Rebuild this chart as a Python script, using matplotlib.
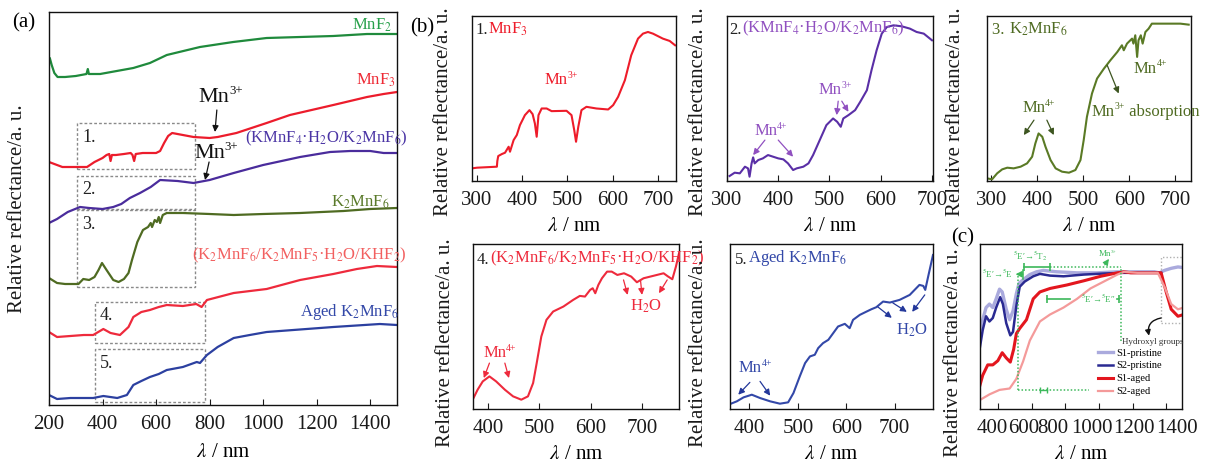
import matplotlib
matplotlib.use("Agg")
import matplotlib.pyplot as plt
from matplotlib.patches import Rectangle
from matplotlib.transforms import ScaledTranslation

plt.rcParams['font.family'] = ['Liberation Serif', 'DejaVu Serif']
plt.rcParams['mathtext.fontset'] = 'stix'

# ---------------- (a) stacked survey spectra, offset a.u. ----------------
a_mnf2_wl = [200, 203, 210, 220, 232, 260, 300, 340, 345, 349, 391, 453, 515, 577, 640,
             702, 764, 888, 1013, 1138, 1262, 1388, 1450, 1500]
a_mnf2_r = [342, 347, 340, 332, 328, 328, 329, 331, 336, 331, 331, 334, 337, 342, 350,
            354, 358, 363, 367, 368, 369, 371, 371, 371]

a_mnf3_wl = [200, 250, 300, 342, 370, 400, 415, 425, 430, 435, 450, 480, 505, 512, 518, 524,
             550, 600, 615, 630, 645, 660, 700, 740, 800, 830, 900, 1013, 1100, 1262, 1388,
             1450, 1500]
a_mnf3_r = [243, 238, 238, 238, 243, 247, 250, 251, 244, 250, 250, 251, 252, 250, 244, 251,
            252, 252, 254, 262, 269, 272, 270, 268, 267, 268, 272, 282, 290, 300, 308,
            311, 313]

a_kmnf4_wl = [200, 230, 270, 316, 350, 400, 440, 470, 502, 540, 580, 615, 680, 740, 800,
              890, 1000, 1138, 1250, 1325, 1400, 1450, 1500]
a_kmnf4_r = [182, 186, 193, 198, 197, 196, 198, 201, 207, 212, 218, 225, 224, 222, 225,
             232, 240, 248, 253, 254, 254, 252, 252]

a_k2mnf6_wl = [200, 230, 260, 310, 328, 350, 370, 385, 398, 415, 440, 460, 480, 497, 510,
               530, 551, 570, 580, 585, 595, 603, 610, 615, 625, 640, 700, 800, 890, 1000,
               1138, 1300, 1400, 1500]
a_k2mnf6_r = [127, 122, 121, 121, 126, 125, 128, 135, 142, 135, 125, 123, 126, 132, 145,
              163, 175, 178, 182, 178, 185, 183, 188, 182, 190, 192, 192, 191, 190, 191,
              192, 194, 196, 197]

a_khf2_wl = [200, 230, 280, 330, 365, 403, 430, 465, 497, 515, 545, 577, 610, 640, 700, 750,
             770, 790, 890, 1013, 1138, 1262, 1350, 1425, 1500]
a_khf2_r = [73, 68, 69, 70, 70, 76, 72, 70, 78, 88, 93, 95, 98, 100, 99, 101,
            98, 105, 112, 116, 125, 131, 136, 139, 138]

a_aged_wl = [200, 230, 280, 365, 403, 455, 491, 515, 545, 577, 610, 640, 700, 752, 764, 790,
             830, 890, 950, 1013, 1262, 1436, 1500]
a_aged_r = [10, 6, 7, 7, 9, 7, 10, 20, 24, 28, 31, 35, 38, 43, 42, 50,
            58, 67, 70, 73, 78, 81, 80]

# zoomed windows marked in (a): (wl_min, wl_max, r_min, r_max)
a_windows = [(305, 745, 236, 282), (305, 745, 196, 229), (305, 745, 118, 195),
             (372, 783, 62, 103), (372, 783, 3, 56)]
a_window_tags = ['1.', '2.', '3.', '4.', '5.']

# ---------------- (b) zoomed spectra ----------------
b1_wl = [289, 300, 344, 345, 347, 355, 362, 370, 373, 381, 388, 395, 406, 416, 423, 428, 432,
         436, 443, 454, 465, 498, 509, 515, 519, 524, 531, 542, 564, 590, 601, 612, 627,
         641, 656, 667, 678, 689, 711, 726, 738]
b1_r = [38, 40, 43, 60, 75, 81, 85, 103, 88, 123, 138, 168, 198, 213, 201, 173, 133,
        198, 218, 218, 210, 211, 198, 153, 118, 163, 213, 223, 218, 215, 228, 253, 303,
        378, 428, 443, 448, 443, 428, 421, 408]

b2_wl = [305, 315, 325, 335, 341, 344, 348, 351, 354, 361, 370, 380, 390, 400, 410, 419,
         429, 436, 449, 459, 468, 481, 494, 507, 515, 522, 527, 537, 550, 560, 573, 582,
         592, 602, 612, 625, 641, 657, 670, 684, 700]
b2_r = [15, 25, 23, 43, 38, 13, 53, 71, 53, 63, 68, 78, 73, 68, 65, 53,
        33, 38, 43, 53, 78, 123, 168, 188, 178, 163, 188, 198, 213, 238, 273, 333,
        393, 443, 463, 468, 465, 458, 448, 443, 423]

b3_wl = [291, 302, 313, 324, 335, 349, 364, 378, 389, 396, 403, 411, 418, 429, 440, 454,
         469, 483, 494, 501, 508, 519, 530, 545, 559, 574, 584, 588, 595, 606, 609, 613,
         617, 620, 625, 629, 635, 642, 649, 675, 711, 729]
b3_r = [8, 5, 23, 35, 40, 38, 43, 53, 73, 113, 143, 133, 103, 63, 38, 28,
        25, 33, 63, 123, 193, 263, 308, 338, 363, 388, 408, 393, 413, 428, 413, 438,
        373, 423, 438, 413, 448, 458, 473, 473, 473, 470]

b4_wl = [372, 380, 390, 403, 416, 433, 449, 465, 478, 488, 495, 504, 514, 527, 547, 566,
         579, 589, 599, 604, 609, 615, 622, 632, 641, 652, 665, 679, 690, 703, 729, 742,
         751, 759, 766, 772]
b4_r = [33, 58, 83, 98, 83, 58, 38, 28, 38, 78, 138, 218, 268, 293, 308, 328,
        340, 338, 358, 363, 348, 373, 393, 413, 413, 403, 408, 398, 381, 393, 403, 408,
        398, 390, 428, 468]

b5_wl = [362, 374, 388, 405, 422, 443, 463, 480, 491, 504, 515, 525, 535, 542, 552, 563,
         573, 583, 597, 607, 614, 628, 642, 652, 662, 676, 690, 710, 731, 751, 759, 763,
         769, 779]
b5_r = [16, 23, 35, 43, 33, 23, 16, 20, 48, 98, 138, 158, 163, 183, 198, 208,
        228, 248, 256, 243, 268, 283, 293, 300, 306, 323, 320, 328, 343, 373, 370, 358,
        398, 463]

# ---------------- (c) pristine vs aged ----------------
c_s1p_wl = [290, 310, 330, 350, 370, 390, 410, 426, 450, 470, 490, 510, 526, 550, 590, 630,
            670, 750, 870, 990, 1110, 1230, 1330, 1360, 1390, 1430, 1470, 1504]
c_s1p_r = [217, 257, 292, 302, 292, 317, 345, 337, 287, 257, 282, 332, 362, 372, 387, 395,
           399, 395, 392, 392, 395, 395, 395, 392, 399, 405, 409, 407]

c_s2p_wl = [290, 310, 330, 350, 370, 390, 414, 430, 450, 474, 490, 510, 530, 560, 610, 650,
            710, 790, 910, 1030, 1150, 1310, 1370]
c_s2p_r = [167, 227, 267, 252, 262, 292, 322, 302, 247, 212, 222, 297, 352, 367, 382, 389,
           384, 382, 387, 390, 392, 392, 392]

c_s1a_wl = [290, 310, 340, 370, 400, 426, 450, 474, 494, 510, 530, 570, 610, 650, 710, 810,
            910, 1010, 1110, 1150, 1190, 1310, 1370, 1400, 1430, 1470, 1504]
c_s1a_r = [62, 97, 127, 127, 139, 162, 147, 135, 172, 217, 232, 257, 317, 337, 347, 357,
           369, 382, 392, 395, 392, 392, 392, 337, 287, 267, 272]

c_s2a_wl = [290, 350, 410, 470, 510, 550, 590, 650, 710, 790, 870, 950, 1030, 1110, 1150,
            1230, 1350, 1390, 1430, 1470, 1504]
c_s2a_r = [25, 42, 55, 59, 87, 137, 197, 252, 272, 292, 317, 347, 367, 387, 395,
           392, 392, 352, 302, 287, 292]

c_series = ['S1-pristine', 'S2-pristine', 'S1-aged', 'S2-aged']
c_ticks = [400, 600, 800, 1000, 1200, 1400]

W, H = 1206, 465
YLABEL = 'Relative reflectance/a. u.'
XLABEL = r'$\lambda$ / nm'


def px_box(left, top, right, bottom):
    return [left / W, 1 - bottom / H, (right - left) / W, (bottom - top) / H]


def style_axes(ax, xlim, ylim, xticks, ylab_x, ylab_y=0.5, xlab_pad=5):
    ax.set_xlim(xlim)
    ax.set_ylim(ylim)
    ax.set_xticks(xticks)
    ax.set_yticks([])
    ax.tick_params(axis='x', direction='in', length=4, width=0.8, pad=7,
                   labelsize=15, colors='#1a1a1a')
    for sp in ax.spines.values():
        sp.set_linewidth(1.0)
        sp.set_color('#111111')
    ax.set_xlabel(XLABEL, fontsize=15, labelpad=xlab_pad)
    ax.set_ylabel(YLABEL, fontsize=15, color='#1a1a1a')
    ax.yaxis.set_label_coords(ylab_x, ylab_y)


def two_tone(ax, x, y, head, body, color, size=12, head_color='#222222'):
    t = ax.text(x, y, head, transform=ax.transAxes, fontsize=size, color=head_color,
                ha='left', va='center')
    ax.annotate(body, xy=(1, 0), xycoords=t, fontsize=size, color=color,
                ha='left', va='bottom')


def ion(ax, x, y, charge, color, size=12, ha='center'):
    """Mn with a small raised charge; (x, y) is the centre of the whole label."""
    shift = -0.3 * size if ha == 'center' else 0
    t = ax.annotate('Mn', xy=(x, y), xytext=(shift, 0), textcoords='offset points',
                    ha=ha, va='center', fontsize=size, color=color)
    s = ax.annotate(charge, xy=(1, 0.52), xycoords=t, fontsize=size * 0.58, color=color,
                    ha='left', va='bottom')
    return t, s


def arrow(ax, start, end, color, lw=0.9):
    ax.annotate('', xy=end, xytext=start,
                arrowprops=dict(arrowstyle='-|>', color=color, lw=lw,
                                mutation_scale=9, shrinkA=0, shrinkB=0))


fig = plt.figure(figsize=(W / 100, H / 100), dpi=100)

# ---------------- panel (a) ----------------
ax = fig.add_axes(px_box(49, 12, 397, 405))
lw = 1.6
ax.plot(a_mnf2_wl, a_mnf2_r, color='#1f8a3c', lw=lw)
ax.plot(a_mnf3_wl, a_mnf3_r, color='#ec1c2c', lw=lw)
ax.plot(a_kmnf4_wl, a_kmnf4_r, color='#4a2c9c', lw=lw)
ax.plot(a_k2mnf6_wl, a_k2mnf6_r, color='#4f6b22', lw=lw)
ax.plot(a_khf2_wl, a_khf2_r, color='#ee2a3c', lw=lw)
ax.plot(a_aged_wl, a_aged_r, color='#2c40a0', lw=lw)
style_axes(ax, (200, 1500), (0, 393), [200, 400, 600, 800, 1000, 1200, 1400], -0.063,
           xlab_pad=7)

for (x0, x1, y0, y1), tag in zip(a_windows, a_window_tags):
    ax.add_patch(Rectangle((x0, y0), x1 - x0, y1 - y0, fill=False, ec='#8a8a8a',
                           lw=1.0, ls=(0, (2, 1.5))))
    ax.text(x0 + 18, y1 - 14, tag, fontsize=13, color='#222222', va='center')

ax.text(1407, 380, 'MnF$_2$', color='#27a04a', fontsize=12, ha='center', va='center')
ax.text(1421, 325, 'MnF$_3$', color='#ee2a35', fontsize=12, ha='center', va='center')
ax.text(1235, 267, '(KMnF$_4$·H$_2$O/K$_2$MnF$_6$)', color='#4b35a5', fontsize=12,
        ha='center', va='center')
ax.text(1362, 203, 'K$_2$MnF$_6$', color='#5a7a2a', fontsize=12, ha='center', va='center')
ax.text(1134, 150, '(K$_2$MnF$_6$/K$_2$MnF$_5$·H$_2$O/KHF$_2$)', color='#f26060',
        fontsize=12, ha='center', va='center')
ax.text(1324, 93, 'Aged K$_2$MnF$_6$', color='#3348a8', fontsize=12, ha='center', va='center')
ion(ax, 842, 308, '3+', '#111111', size=16)
arrow(ax, (827, 295), (820, 273), '#111111')
ion(ax, 824, 252, '3+', '#111111', size=16)
arrow(ax, (798, 243), (783, 225), '#111111')
fig.text(24 / W, 1 - 23 / H, '(a)', fontsize=15, ha='center', va='center')

# ---------------- panel (b) ----------------
ax1 = fig.add_axes(px_box(472, 16, 676, 181))
ax1.plot(b1_wl, b1_r, color='#ee1c2a', lw=1.5)
style_axes(ax1, (289, 740), (0, 496), [300, 400, 500, 600, 700], -0.093, 0.42)
two_tone(ax1, 0.015, 0.915, '1.', 'MnF$_3$', '#ee1c2a')
ion(ax1, 486, 303, '3+', '#ee1c2a')

ax2 = fig.add_axes(px_box(727, 16, 933, 181))
ax2.plot(b2_wl, b2_r, color='#5a2fa6', lw=1.5)
style_axes(ax2, (300, 702), (0, 496), [300, 400, 500, 600, 700], -0.092, 0.42)
two_tone(ax2, 0.01, 0.915, '2.', '(KMnF$_4$·H$_2$O/K$_2$MnF$_6$)', '#9050c0')
ion(ax2, 385, 150, '4+', '#9050c0')
arrow(ax2, (374, 123), (351, 78), '#9050c0')
arrow(ax2, (400, 123), (429, 73), '#9050c0')
ion(ax2, 511, 273, '3+', '#9050c0')
arrow(ax2, (517, 240), (514, 198), '#9050c0')
arrow(ax2, (524, 240), (537, 208), '#9050c0')

ax3 = fig.add_axes(px_box(987, 16, 1191, 181))
ax3.plot(b3_wl, b3_r, color='#5a7a25', lw=1.5)
style_axes(ax3, (291, 734), (0, 496), [300, 400, 500, 600, 700], -0.108, 0.42)
two_tone(ax3, 0.025, 0.915, '3. ', 'K$_2$MnF$_6$', '#4f6b22', head_color='#4f6b22')
ion(ax3, 403, 218, '4+', '#4f6b22')
arrow(ax3, (393, 183), (371, 138), '#3d5520')
arrow(ax3, (421, 183), (436, 138), '#3d5520')
t_mn, t_sup = ion(ax3, 519, 208, '3+', '#4f6b22', ha='left')
ax3.annotate(' absorption', xy=(1, 0), xycoords=(t_sup, t_mn), fontsize=12,
             color='#4f6b22', ha='left', va='bottom')
arrow(ax3, (552, 348), (577, 263), '#3d5520')
ion(ax3, 646, 338, '4+', '#4f6b22')
fig.text(422 / W, 1 - 28 / H, '(b)', fontsize=15, ha='center', va='center')

ax4 = fig.add_axes(px_box(473, 244, 679, 409))
ax4.plot(b4_wl, b4_r, color='#ee2a3c', lw=1.5)
style_axes(ax4, (371, 772), (0, 496), [400, 500, 600, 700], -0.087, 0.40)
two_tone(ax4, 0.02, 0.903, '4.', '(K$_2$MnF$_6$/K$_2$MnF$_5$·H$_2$O/KHF$_2$)', '#ee2a3c')
ion(ax4, 423, 168, '4+', '#ee2a3c')
arrow(ax4, (403, 138), (392, 93), '#ee2a3c')
arrow(ax4, (433, 138), (441, 93), '#ee2a3c')
ax4.text(707, 310, 'H$_2$O', color='#ee2a3c', fontsize=12, ha='center', va='center')
arrow(ax4, (664, 388), (672, 343), '#ee2a3c')
arrow(ax4, (697, 388), (700, 343), '#ee2a3c')
arrow(ax4, (749, 388), (733, 348), '#ee2a3c')

ax5 = fig.add_axes(px_box(730, 244, 933, 409))
ax5.plot(b5_wl, b5_r, color='#3348a8', lw=1.5)
style_axes(ax5, (360, 779), (0, 496), [400, 500, 600, 700], -0.108, 0.40)
two_tone(ax5, 0.025, 0.903, '5.', 'Aged K$_2$MnF$_6$', '#3348a8')
ion(ax5, 412, 123, '4+', '#3348a8')
arrow(ax5, (401, 80), (377, 43), '#23379a')
arrow(ax5, (422, 83), (443, 40), '#23379a')
ax5.text(736, 238, 'H$_2$O', color='#3348a8', fontsize=12, ha='center', va='center')
arrow(ax5, (665, 307), (694, 274), '#23379a')
arrow(ax5, (696, 319), (725, 292), '#23379a')
arrow(ax5, (762, 343), (736, 292), '#23379a')

# ---------------- panel (c) ----------------
axc = fig.add_axes(px_box(980, 244, 1182, 409))
axc.plot(c_s1p_wl, c_s1p_r, color='#aaaadd', lw=2.4, label=c_series[0])
axc.plot(c_s2p_wl, c_s2p_r, color='#2a2a92', lw=1.8, label=c_series[1])
axc.plot(c_s1a_wl, c_s1a_r, color='#e3161e', lw=2.2, label=c_series[2])
axc.plot(c_s2a_wl, c_s2a_r, color='#f49a9a', lw=1.6, label=c_series[3])
style_axes(axc, (294, 1494), (0, 475), c_ticks, -0.084, 0.34)
for lab, dx in zip(axc.get_xticklabels(), [-6, -8, -12, -7, 1, 11]):
    lab.set_transform(lab.get_transform() + ScaledTranslation(dx / 100, 0, fig.dpi_scale_trans))
axc.legend(loc='upper left', bbox_to_anchor=(0.56, 0.40), frameon=False, fontsize=7.5,
           handlelength=1.4, handletextpad=0.3, labelspacing=0.35, borderpad=0)

green = '#3cb85a'
dot = dict(color=green, lw=1.1, ls=(0, (1, 1.3)))
axc.plot([520, 520], [55, 387], **dot)
axc.plot([520, 940], [55, 55], **dot)
axc.plot([708, 1130], [409, 409], **dot)
axc.plot([1134, 1134], [197, 409], **dot)
axc.plot([558, 708], [409, 409], color=green, lw=1.2, marker='|', ms=6, mew=1.2)
axc.plot([690, 830], [317, 317], color=green, lw=1.2, marker='|', ms=6, mew=1.2,
         markevery=[0])
axc.plot([1106, 1122], [317, 317], color=green, lw=1.2, marker='|', ms=6, mew=1.2,
         markevery=[1])
axc.plot([650, 690], [55, 55], color=green, lw=1.0, marker='|', ms=5, mew=1.0)
axc.plot([548, 548], [375, 400], color=green, lw=1.1)
arrow(axc, (548, 388), (505, 388), green, lw=1.0)
axc.text(398, 388, "$^5$E′→$^5$E", color=green, fontsize=6.5, ha='center', va='center')
axc.text(590, 439, "$^5$E′→$^5$T$_2$", color=green, fontsize=6.5, ha='center', va='center')
axc.text(996, 317, "$^5$E′→$^5$E″", color=green, fontsize=6.5, ha='center', va='center')
ion(axc, 1050, 447, '3+', green, size=6.5)
arrow(axc, (1035, 415), (1060, 432), green, lw=0.8)
axc.add_patch(Rectangle((1370, 247), 140, 192, fill=False, ec='#b0b0b0', lw=1.0,
                        ls=(0, (1, 1.5))))
axc.text(1322, 193, 'Hydroxyl groups', color='#333333', fontsize=6.5, ha='center',
         va='center', clip_on=False)
axc.annotate('', xy=(1298, 211), xytext=(1370, 262),
             arrowprops=dict(arrowstyle='-|>', color='#111111', lw=1.0, mutation_scale=8,
                             connectionstyle='arc3,rad=0.5', shrinkA=0, shrinkB=0))
fig.text(963 / W, 1 - 238 / H, '(c)', fontsize=15, ha='center', va='center')

fig.savefig('out.png', dpi=100)
